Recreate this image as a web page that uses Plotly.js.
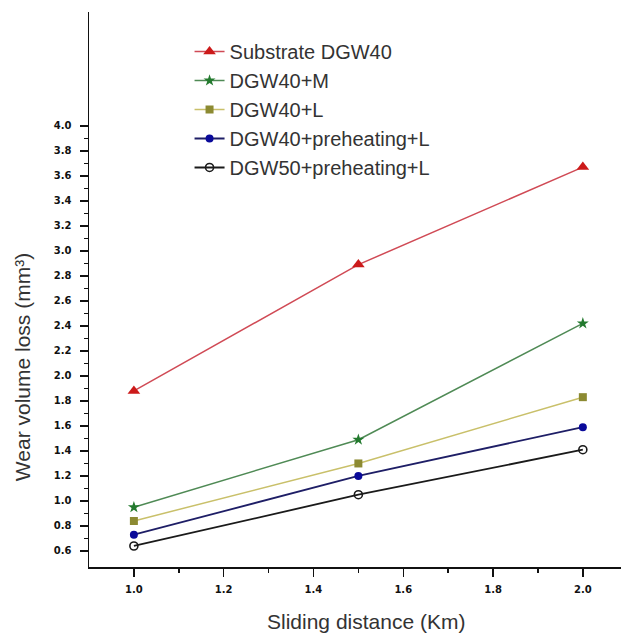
<!DOCTYPE html>
<html>
<head>
<meta charset="utf-8">
<script src="https://cdn.plot.ly/plotly-3.0.1.min.js"></script>
<style>
html,body{margin:0;padding:0;background:#fff;}
#chart{width:621px;height:634px;}
</style>
</head>
<body>
<div id="chart"></div>
<script>
// Data
const slidingDistance = [1.0, 1.5, 2.0];
const substrateDGW40 = [1.88, 2.89, 3.67];
const dgw40M = [0.95, 1.49, 2.42];
const dgw40L = [0.84, 1.30, 1.83];
const dgw40PreheatL = [0.73, 1.20, 1.59];
const dgw50PreheatL = [0.64, 1.05, 1.41];

const seriesNames = ['Substrate DGW40', 'DGW40+M', 'DGW40+L', 'DGW40+preheating+L', 'DGW50+preheating+L'];
const xTickVals = [1.0, 1.2, 1.4, 1.6, 1.8, 2.0];
const xMinorVals = [1.1, 1.3, 1.5, 1.7, 1.9];
const yTickVals = [0.6, 0.8, 1.0, 1.2, 1.4, 1.6, 1.8, 2.0, 2.2, 2.4, 2.6, 2.8, 3.0, 3.2, 3.4, 3.6, 3.8, 4.0];
const yMinorVals = [0.7, 0.9, 1.1, 1.3, 1.5, 1.7, 1.9, 2.1, 2.3, 2.5, 2.7, 2.9, 3.1, 3.3, 3.5, 3.7, 3.9];
const yTitle = 'Wear volume loss (mm³)';
const xTitle = 'Sliding distance (Km)';

const traces = [
  {y: substrateDGW40, name: seriesNames[0], line: {color: '#d04a55', width: 1.5},
   marker: {symbol: 'triangle-up', size: 11, color: '#cc1a1a'}},
  {y: dgw40M, name: seriesNames[1], line: {color: '#4f8a55', width: 1.5},
   marker: {symbol: 'star', size: 9, color: '#237a2e'}},
  {y: dgw40L, name: seriesNames[2], line: {color: '#c9c06a', width: 1.5},
   marker: {symbol: 'square', size: 8, color: '#8c8a32'}},
  {y: dgw40PreheatL, name: seriesNames[3], line: {color: '#1e1e66', width: 1.8},
   marker: {symbol: 'circle', size: 8, color: '#0a0a9a'}},
  {y: dgw50PreheatL, name: seriesNames[4], line: {color: '#1a1a1a', width: 1.8},
   marker: {symbol: 'circle-open', size: 8, color: '#1a1a1a', line: {width: 1.6}}}
].map(t => Object.assign({x: slidingDistance, type: 'scatter', mode: 'lines+markers'}, t));

const tickFont = {family: 'DejaVu Sans', size: 10, color: '#111', weight: 'bold'};

const layout = {
  width: 621, height: 634,
  margin: {l: 89, r: 0, t: 12, b: 67},
  paper_bgcolor: '#fff', plot_bgcolor: '#fff',
  showlegend: true,
  legend: {
    x: 0.189, y: 0.964, xanchor: 'left', yanchor: 'top',
    font: {family: 'Liberation Sans, Arial', size: 20, color: '#333'},
    bgcolor: 'rgba(0,0,0,0)', tracegroupgap: 0, itemwidth: 30
  },
  xaxis: {
    range: [0.9, 2.085], showgrid: false, zeroline: false,
    showline: true, linecolor: '#111', linewidth: 1.5,
    ticks: 'outside', ticklen: 8, tickwidth: 1.5, tickcolor: '#111',
    tickmode: 'array', tickvals: xTickVals, tickformat: '.1f',
    tickfont: tickFont, ticklabelstandoff: 4,
    minor: {tickmode: 'array', tickvals: xMinorVals, ticks: 'outside', ticklen: 4, tickwidth: 1.5, tickcolor: '#111', showgrid: false}
  },
  yaxis: {
    range: [0.472, 4.91], showgrid: false, zeroline: false,
    showline: true, linecolor: '#111', linewidth: 1.5,
    ticks: 'outside', ticklen: 8, tickwidth: 1.5, tickcolor: '#111',
    tickmode: 'array', tickvals: yTickVals, tickformat: '.1f',
    tickfont: tickFont, ticklabelstandoff: 6,
    minor: {tickmode: 'array', tickvals: yMinorVals, ticks: 'outside', ticklen: 4, tickwidth: 1.5, tickcolor: '#111', showgrid: false}
  },
  annotations: [
    {text: yTitle, xref: 'paper', yref: 'paper', x: -0.126, y: 0.36,
     xanchor: 'center', yanchor: 'middle', textangle: -90, showarrow: false,
     font: {family: 'Liberation Sans, Arial', size: 21, color: '#333'}},
    {text: xTitle, xref: 'paper', yref: 'paper', x: 0.521, y: -0.099,
     xanchor: 'center', yanchor: 'middle', showarrow: false,
     font: {family: 'Liberation Sans, Arial', size: 21, color: '#333'}}
  ]
};

Plotly.newPlot('chart', traces, layout, {displayModeBar: false, staticPlot: true});
</script>
</body>
</html>
